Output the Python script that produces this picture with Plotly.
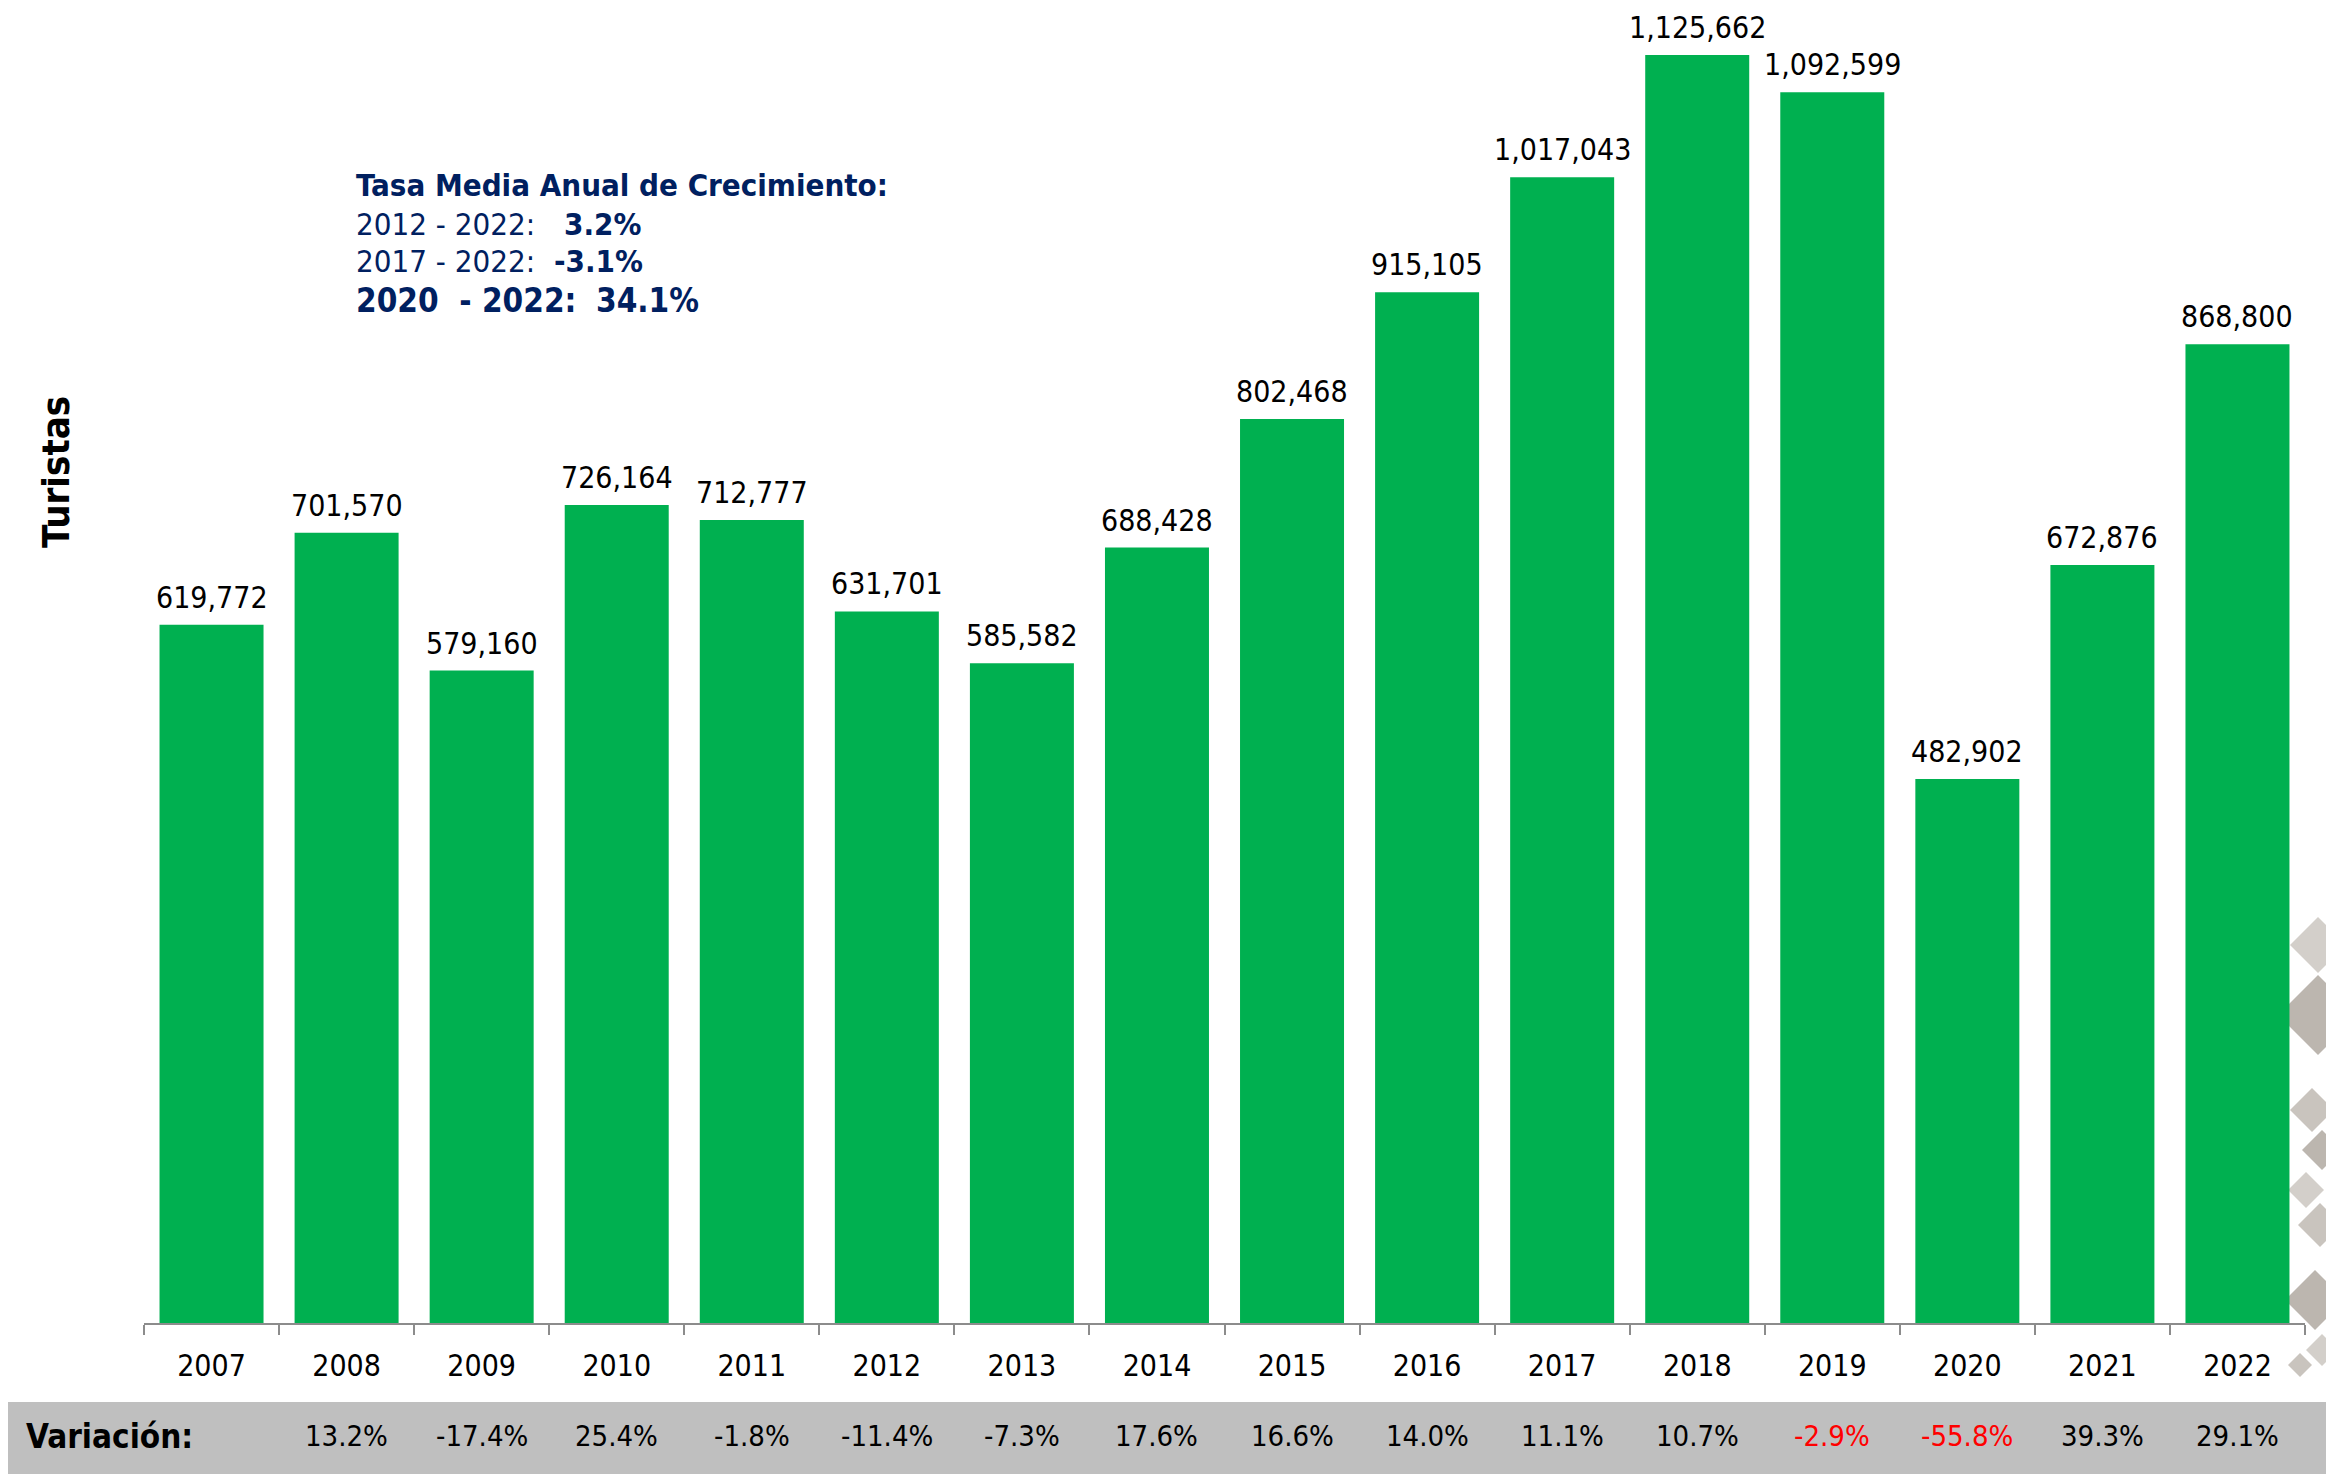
import plotly.graph_objects as go

years = ["2007", "2008", "2009", "2010", "2011", "2012", "2013", "2014",
         "2015", "2016", "2017", "2018", "2019", "2020", "2021", "2022"]
turistas = [619772, 701570, 579160, 726164, 712777, 631701, 585582, 688428,
            802468, 915105, 1017043, 1125662, 1092599, 482902, 672876, 868800]
variacion = [None, 13.2, -17.4, 25.4, -1.8, -11.4, -7.3, 17.6,
             16.6, 14.0, 11.1, 10.7, -2.9, -55.8, 39.3, 29.1]
red_years = ["2019", "2020"]

tasa_title = "Tasa Media Anual de Crecimiento:"
tasa_periods = ["2012 - 2022:", "2017 - 2022:", "2020  - 2022:"]
tasa_values = ["3.2%", "-3.1%", "34.1%"]

W, H = 2326, 1474
ML, MR, MT, MB = 144, 21, 20, 151
PW, PH = W - ML - MR, H - MT - MB
AXIS_Y = H - MB


def px(x):
    return (x - ML) / PW


def py(y):
    return (AXIS_Y - y) / PH


FONT = "Tahoma, 'DejaVu Sans Condensed', 'Liberation Sans Narrow', 'DejaVu Sans', sans-serif"
NAVY = "#002060"
GREEN = "#00B050"

fig = go.Figure()
fig.add_trace(go.Bar(
    x=years, y=turistas, marker=dict(color=GREEN, line=dict(width=0)),
    hoverinfo="x+y", showlegend=False,
))

annotations = []
for i, v in enumerate(turistas):
    annotations.append(dict(
        x=i, y=v, xref="x", yref="y", text=f"{v:,}", showarrow=False,
        yanchor="bottom", yshift=8, font=dict(family=FONT, size=30, color="black"),
    ))

# Variation band
band_y = -(1436 - AXIS_Y) / PH
for i, (yr, v) in enumerate(zip(years, variacion)):
    if v is None:
        continue
    annotations.append(dict(
        x=i, y=band_y, xref="x", yref="paper", text=f"{v:.1f}%", showarrow=False,
        yanchor="middle", font=dict(family=FONT, size=29,
                                    color="#FF0000" if yr in red_years else "black"),
    ))
annotations.append(dict(
    x=px(24), y=band_y, xref="paper", yref="paper", text="<b>Variación:</b>",
    showarrow=False, xanchor="left", yanchor="middle",
    font=dict(family=FONT, size=33, color="black"),
))

# Y axis title
annotations.append(dict(
    x=px(56), y=py(472), xref="paper", yref="paper", text="<b>Turistas</b>",
    showarrow=False, textangle=-90, xanchor="center", yanchor="middle",
    font=dict(family=FONT, size=38, color="black"),
))

# Growth rate text block
annotations.append(dict(
    x=px(354), y=py(185), xref="paper", yref="paper", text=f"<b>{tasa_title}</b>",
    showarrow=False, xanchor="left", yanchor="middle",
    font=dict(family=FONT, size=31, color=NAVY),
))
line_y = [224, 261, 301]
val_x = [562, 552, 594]
for i, (per, val) in enumerate(zip(tasa_periods, tasa_values)):
    big = i == 2
    annotations.append(dict(
        x=px(354), y=py(line_y[i]), xref="paper", yref="paper",
        text=f"<b>{per}</b>" if big else per,
        showarrow=False, xanchor="left", yanchor="middle",
        font=dict(family=FONT, size=33 if big else 31, color=NAVY),
    ))
    annotations.append(dict(
        x=px(val_x[i]), y=py(line_y[i]), xref="paper", yref="paper",
        text=f"<b>{val}</b>", showarrow=False, xanchor="left", yanchor="middle",
        font=dict(family=FONT, size=33 if big else 31, color=NAVY),
    ))

shapes = [dict(
    type="rect", xref="paper", yref="paper", x0=px(8), x1=px(W + 5),
    y0=py(1402), y1=py(H + 5), fillcolor="#BFBFBF", line=dict(width=0), layer="below",
)]

# decorative watermark diamonds at right edge
deco = [(2318, 945, 28, "#D3CFCA"), (2318, 1015, 40, "#BCB6AF"), (2312, 1110, 22, "#C9C4BE"),
        (2322, 1150, 20, "#BCB6AF"), (2306, 1190, 18, "#D3CFCA"), (2320, 1225, 22, "#C9C4BE"),
        (2315, 1300, 30, "#BCB6AF"), (2322, 1350, 16, "#D3CFCA"), (2300, 1365, 12, "#C9C4BE")]
for cx, cy, r, col in deco:
    path = (f"M {px(cx)} {py(cy - r)} L {px(cx + r)} {py(cy)} "
            f"L {px(cx)} {py(cy + r)} L {px(cx - r)} {py(cy)} Z")
    shapes.append(dict(type="path", xref="paper", yref="paper", path=path,
                       fillcolor=col, line=dict(width=0), layer="below"))

ymax = PH * 1125662 / (AXIS_Y - 55)

fig.update_layout(
    width=W, height=H,
    margin=dict(l=ML, r=MR, t=MT, b=MB, pad=0),
    paper_bgcolor="white", plot_bgcolor="rgba(0,0,0,0)",
    bargap=0.23,
    font=dict(family=FONT, color="black"),
    annotations=annotations, shapes=shapes,
    xaxis=dict(
        type="category", showline=True, linecolor="#8C8C8C", linewidth=2,
        ticks="outside", tickson="boundaries", ticklen=10, tickwidth=2, tickcolor="#8C8C8C",
        tickfont=dict(family=FONT, size=30, color="black"), showgrid=False,
        ticklabelstandoff=15, range=[-0.5, 15.5],
    ),
    yaxis=dict(visible=False, range=[0, ymax], showgrid=False, zeroline=False),
)

fig.write_html(
    "out.html",
    config={"displayModeBar": False},
    post_script="document.body.style.margin='0';document.body.style.overflow='hidden';",
)
